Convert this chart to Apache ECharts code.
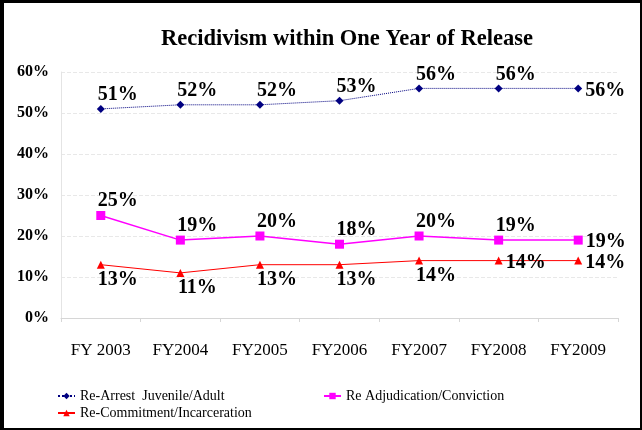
<!DOCTYPE html>
<html>
<head>
  <meta charset="UTF-8">
  <title>Recidivism</title>
  <style>
    html, body { margin: 0; padding: 0; width: 642px; height: 430px; background: #fff; }
    #main { width: 642px; height: 430px; }
  </style>
  <script src="https://cdn.jsdelivr.net/npm/echarts@6/dist/echarts.min.js"></script>
</head>
<body>
<div id="main"></div>
<script>
  // data
  var years = ['FY 2003', 'FY2004', 'FY2005', 'FY2006', 'FY2007', 'FY2008', 'FY2009'];
  var reArrest = [51, 52, 52, 53, 56, 56, 56];
  var reAdjudication = [25, 19, 20, 18, 20, 19, 19];
  var reCommitment = [13, 11, 13, 13, 14, 14, 14];
  var names = ['Re-Arrest  Juvenile/Adult', 'Re Adjudication/Conviction', 'Re-Commitment/Incarceration'];

  // where each data label sits
  var arrestPos = ['tr', 'tr', 'tr', 'tr', 'tr', 'tr', 'right'];
  var adjPos = ['tr', 'tr', 'tr', 'tr', 'tr', 'tr', 'right'];
  var comPos = ['br', 'br', 'br', 'br', 'br', 'right', 'right'];

  var serif = '"Liberation Serif", "DejaVu Serif", serif';

  function labelFor(p) {
    if (p === 'right') return { position: 'right', offset: [0, 2] };
    if (p === 'tr') return { position: 'top', offset: [17, 3] };
    return { position: 'bottom', offset: [17, -2] };
  }
  function withLabels(values, pos) {
    return values.map(function (v, i) {
      return { value: v, label: labelFor(pos[i]) };
    });
  }

  var chart = echarts.init(document.getElementById('main'));

  var baseLabel = {
    show: true,
    formatter: '{c}%',
    fontFamily: serif,
    fontSize: 20,
    fontWeight: 'bold',
    color: '#000',
    distance: 3
  };
  var legendText = { fontFamily: serif, fontSize: 14, color: '#000' };

  var option = {
    animation: false,
    backgroundColor: '#fff',
    title: {
      text: 'Recidivism within One Year of Release',
      left: 342,
      textAlign: 'center',
      top: 23,
      textStyle: { fontFamily: serif, fontSize: 22.5, fontWeight: 'bold', color: '#000' }
    },
    // black frame round the picture
    graphic: [
      { type: 'rect', left: 0, top: 0, shape: { width: 4, height: 430 }, style: { fill: '#000' } },
      { type: 'rect', left: 0, top: 0, shape: { width: 642, height: 3 }, style: { fill: '#000' } },
      { type: 'rect', right: 0, top: 0, shape: { width: 2, height: 430 }, style: { fill: '#000' } },
      { type: 'rect', left: 0, bottom: 0, shape: { width: 642, height: 2 }, style: { fill: '#000' } }
    ],
    legend: [
      { data: [names[0]], left: 52, top: 384, itemWidth: 17, itemHeight: 8, textStyle: legendText },
      { data: [names[1]], left: 318, top: 384, itemWidth: 17, itemHeight: 8, textStyle: legendText },
      { data: [names[2]], left: 52, top: 401, itemWidth: 17, itemHeight: 8, textStyle: legendText }
    ],
    grid: { left: 61, right: 24, top: 72, bottom: 112 },
    xAxis: {
      type: 'category',
      data: years,
      axisLine: { lineStyle: { color: '#d6d6d6' } },
      axisTick: { show: true, lineStyle: { color: '#d6d6d6' }, length: 4 },
      axisLabel: { fontFamily: serif, fontSize: 17, color: '#000', margin: 24 }
    },
    yAxis: {
      type: 'value',
      min: 0, max: 60, interval: 10,
      axisLabel: { formatter: '{value}%', fontFamily: serif, fontSize: 16, fontWeight: 'bold', color: '#000', margin: 12 },
      axisLine: { show: true, lineStyle: { color: '#e4e4e4' } },
      splitLine: { lineStyle: { color: '#e8e8e8', type: 'dashed' } }
    },
    series: [
      {
        name: names[0], type: 'line', data: withLabels(reArrest, arrestPos),
        symbol: 'diamond', symbolSize: 8,
        itemStyle: { color: '#000080' },
        lineStyle: { color: '#000080', width: 1, type: 'dotted' },
        label: baseLabel
      },
      {
        name: names[1], type: 'line', data: withLabels(reAdjudication, adjPos),
        symbol: 'rect', symbolSize: 9,
        itemStyle: { color: '#ff00ff' },
        lineStyle: { color: '#ff00ff', width: 1.5 },
        label: baseLabel
      },
      {
        name: names[2], type: 'line', data: withLabels(reCommitment, comPos),
        symbol: 'triangle', symbolSize: 8,
        itemStyle: { color: '#ff0000' },
        lineStyle: { color: '#ff0000', width: 1 },
        label: baseLabel
      }
    ]
  };
  chart.setOption(option);
</script>
</body>
</html>
